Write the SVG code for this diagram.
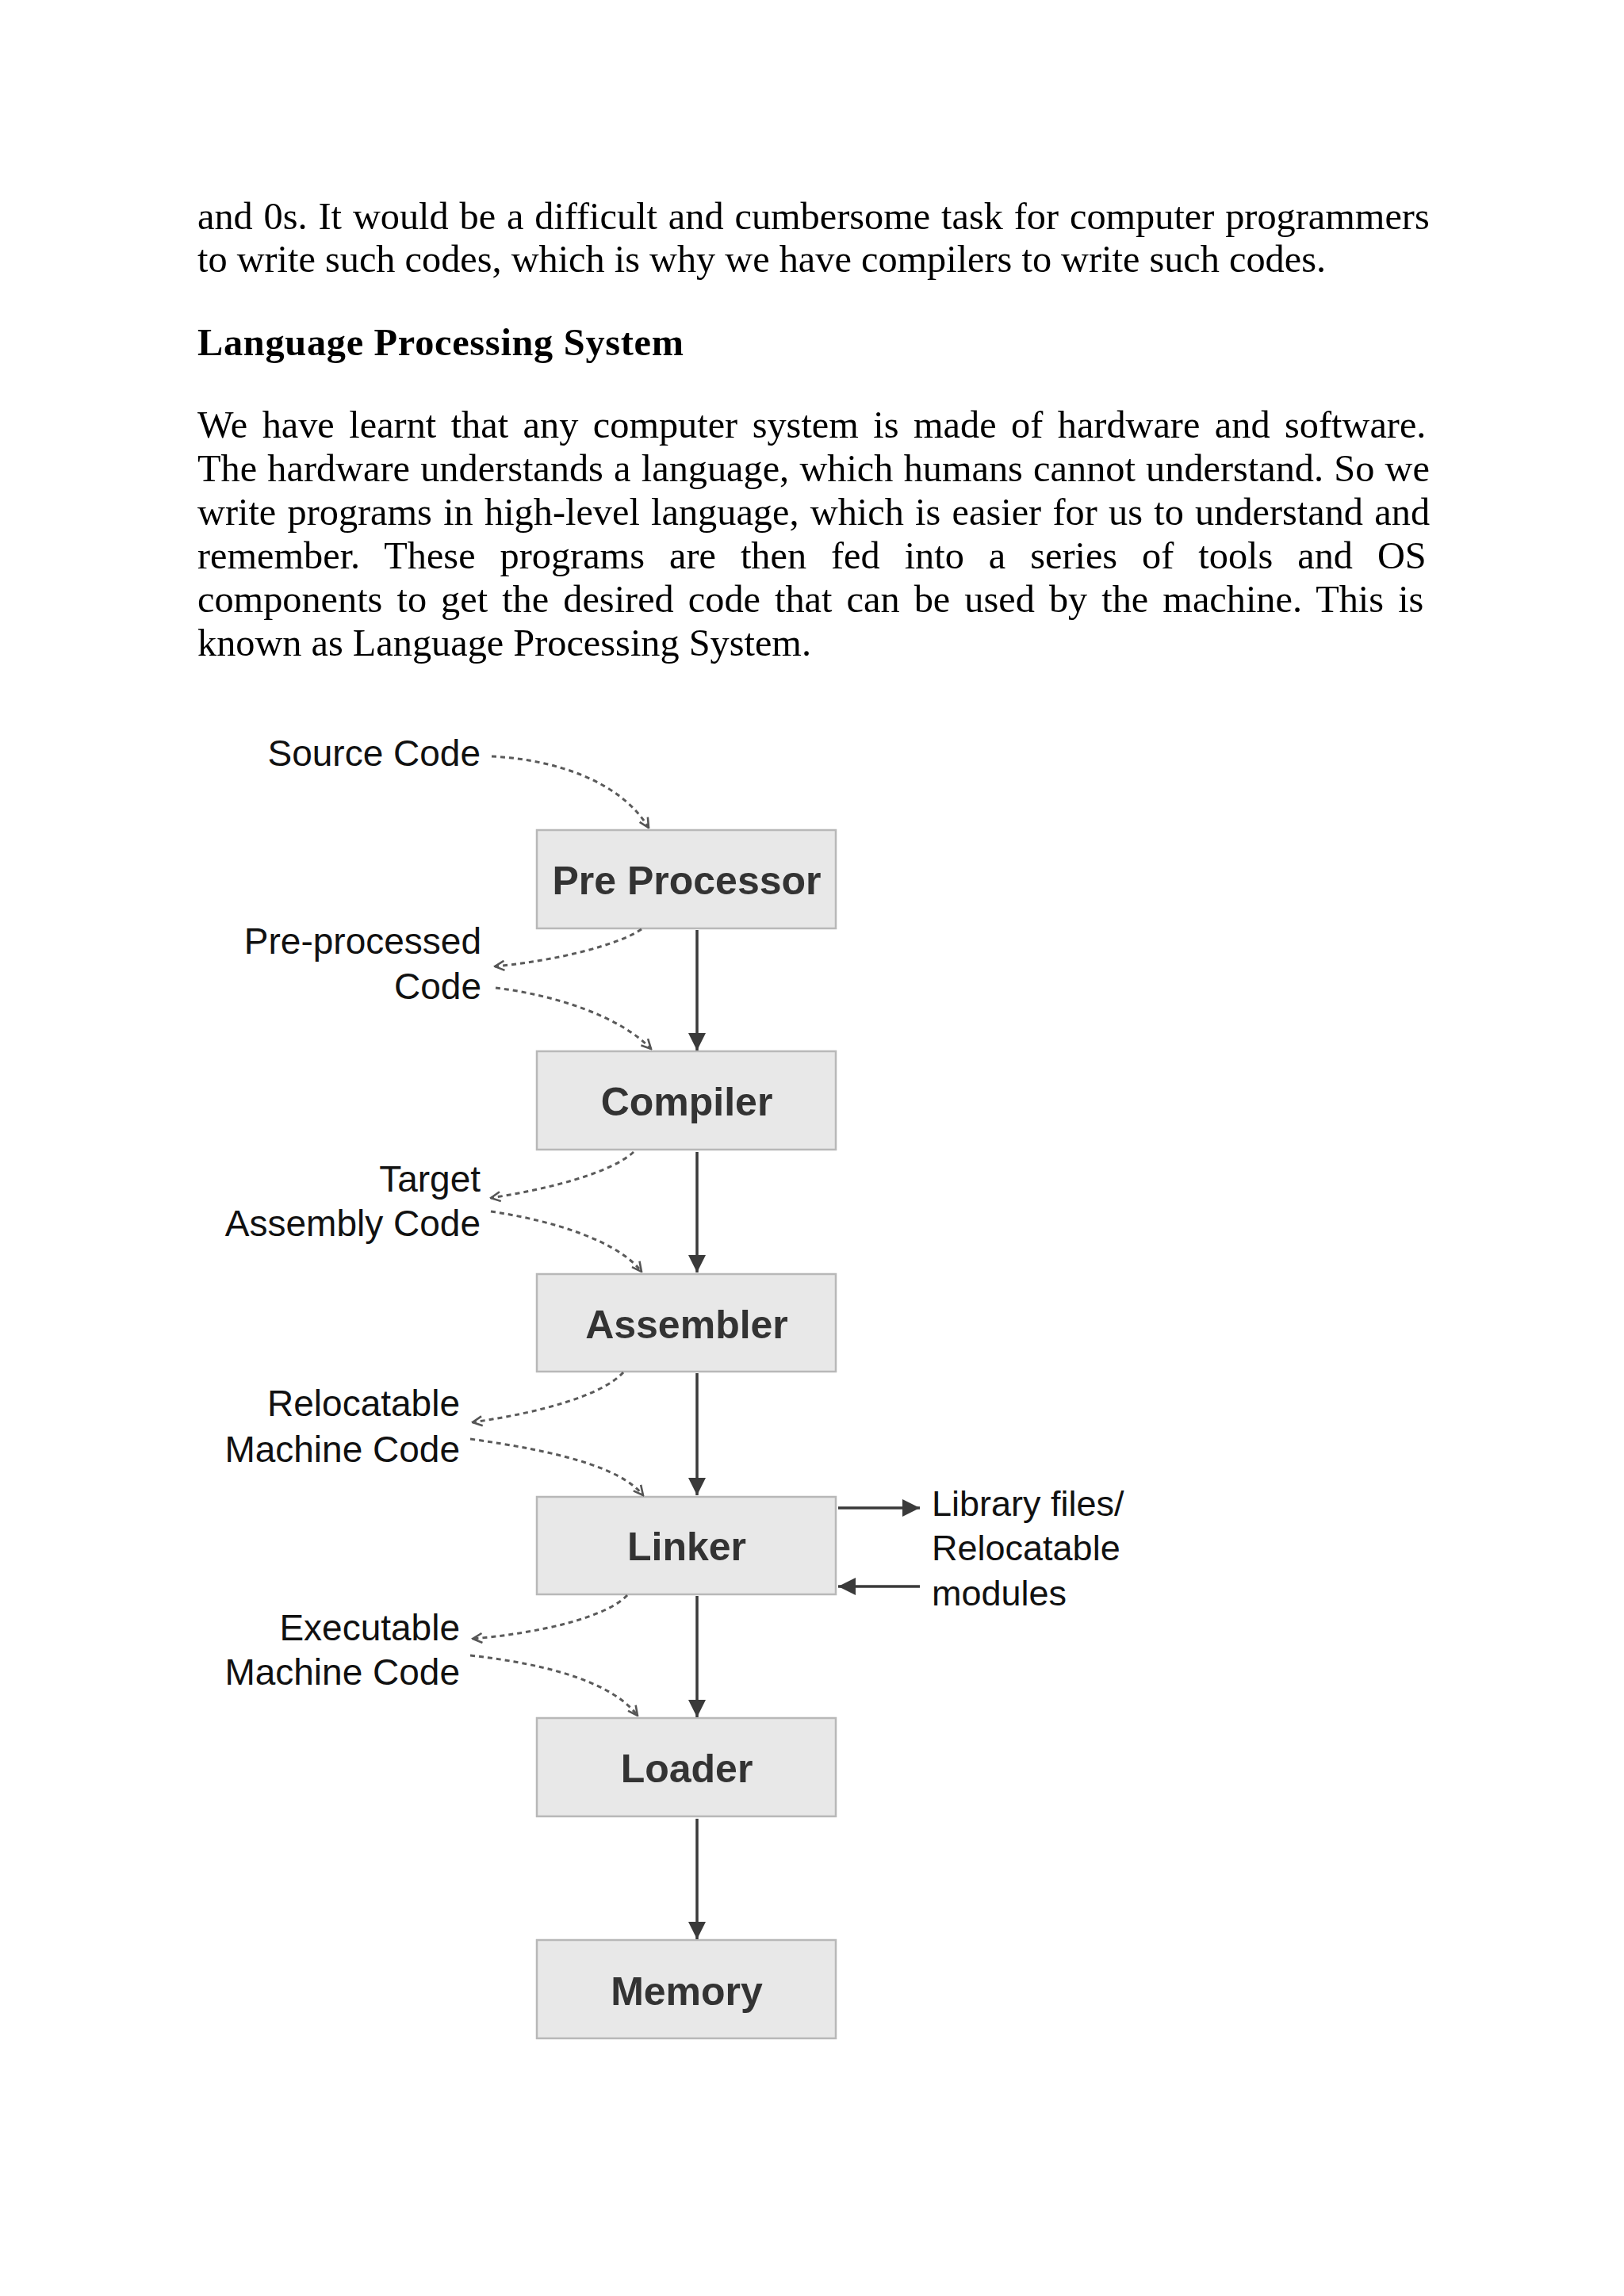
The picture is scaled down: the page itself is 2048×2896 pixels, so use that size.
<svg xmlns="http://www.w3.org/2000/svg" width="2048" height="2896" viewBox="0 0 2048 2896">
<style>
.body{font-family:"Liberation Serif","Times New Roman",serif;font-size:48.3px;fill:#000}
.head{font-family:"Liberation Serif","Times New Roman",serif;font-size:48.3px;font-weight:bold;fill:#000}
.box{fill:#e8e8e8;stroke:#b8b8b8;stroke-width:2.5}
.bl{font-family:"Liberation Sans",Arial,sans-serif;font-size:50px;font-weight:bold;fill:#333;text-anchor:middle}
.lab{font-family:"Liberation Sans",Arial,sans-serif;font-size:46px;fill:#111;text-anchor:end}
.labr{font-family:"Liberation Sans",Arial,sans-serif;font-size:45px;fill:#111}
.solid{stroke:#3a3a3a;stroke-width:3.5;fill:none;marker-end:url(#tri)}
.dot{stroke:#5a5a5a;stroke-width:3;stroke-dasharray:6 5;fill:none;marker-end:url(#chev)}
</style>
<defs>
<marker id="tri" viewBox="0 0 10 10" refX="10" refY="5" markerWidth="22" markerHeight="22" markerUnits="userSpaceOnUse" orient="auto">
<path d="M0,0 L10,5 L0,10 Z" fill="#3a3a3a"/>
</marker>
<marker id="chev" viewBox="0 0 10 10" refX="9" refY="5" markerWidth="15" markerHeight="15" markerUnits="userSpaceOnUse" orient="auto">
<path d="M1,1 L9,5 L1,9" fill="none" stroke="#555" stroke-width="1.7"/>
</marker>
</defs>
<rect width="2048" height="2896" fill="#fff"/>

<g id="text">
<text class="body" x="249" y="289" word-spacing="1.8">and 0s. It would be a difficult and cumbersome task for computer programmers</text>
<text class="body" x="249" y="343">to write such codes, which is why we have compilers to write such codes.</text>
<text class="head" x="249" y="448" textLength="613" lengthAdjust="spacing">Language Processing System</text>
<text class="body" x="249" y="552" word-spacing="6.4">We have learnt that any computer system is made of hardware and software.</text>
<text class="body" x="249" y="607" word-spacing="1.15">The hardware understands a language, which humans cannot understand. So we</text>
<text class="body" x="249" y="662" word-spacing="2.2">write programs in high-level language, which is easier for us to understand and</text>
<text class="body" x="249" y="717" word-spacing="18.9">remember. These programs are then fed into a series of tools and OS</text>
<text class="body" x="249" y="772" word-spacing="6.0">components to get the desired code that can be used by the machine. This is</text>
<text class="body" x="249" y="827">known as Language Processing System.</text>
</g>

<g id="node-preprocessor"><rect class="box" x="677" y="1047" width="377" height="124"/><text class="bl" x="866" y="1128">Pre Processor</text></g>
<g id="node-compiler"><rect class="box" x="677" y="1326" width="377" height="124"/><text class="bl" x="866" y="1407">Compiler</text></g>
<g id="node-assembler"><rect class="box" x="677" y="1607" width="377" height="123"/><text class="bl" x="866" y="1688">Assembler</text></g>
<g id="node-linker"><rect class="box" x="677" y="1888" width="377" height="123"/><text class="bl" x="866" y="1968">Linker</text></g>
<g id="node-loader"><rect class="box" x="677" y="2167" width="377" height="124"/><text class="bl" x="866" y="2248">Loader</text></g>
<g id="node-memory"><rect class="box" x="677" y="2447" width="377" height="124"/><text class="bl" x="866" y="2529">Memory</text></g>

<g id="labels">
<text class="lab" x="606" y="966">Source Code</text>
<text class="lab" x="607" y="1203">Pre-processed</text>
<text class="lab" x="607" y="1260">Code</text>
<text class="lab" x="606" y="1503">Target</text>
<text class="lab" x="606" y="1559">Assembly Code</text>
<text class="lab" x="580" y="1786">Relocatable</text>
<text class="lab" x="580" y="1844">Machine Code</text>
<text class="lab" x="580" y="2069">Executable</text>
<text class="lab" x="580" y="2125">Machine Code</text>
<text class="labr" x="1175" y="1912">Library files/</text>
<text class="labr" x="1175" y="1968">Relocatable</text>
<text class="labr" x="1175" y="2025">modules</text>
</g>

<g id="connectors">
<line class="solid" x1="879" y1="1173" x2="879" y2="1325"/>
<line class="solid" x1="879" y1="1453" x2="879" y2="1605"/>
<line class="solid" x1="879" y1="1732" x2="879" y2="1886"/>
<line class="solid" x1="879" y1="2013" x2="879" y2="2166"/>
<line class="solid" x1="879" y1="2294" x2="879" y2="2446"/>
<line class="solid" x1="1057" y1="1902" x2="1160" y2="1902"/>
<line class="solid" x1="1160" y1="2001" x2="1057" y2="2001"/>

<path class="dot" d="M620,954 C700,958 782,985 818,1044"/>
<path class="dot" d="M809,1172 C780,1192 700,1212 624,1219"/>
<path class="dot" d="M625,1246 C700,1255 782,1282 821,1323"/>
<path class="dot" d="M799,1453 C770,1480 690,1500 619,1511"/>
<path class="dot" d="M619,1528 C700,1540 780,1566 809,1604"/>
<path class="dot" d="M786,1731 C760,1760 680,1782 596,1794"/>
<path class="dot" d="M593,1815 C700,1830 782,1850 811,1886"/>
<path class="dot" d="M791,2012 C765,2040 680,2060 596,2067"/>
<path class="dot" d="M593,2088 C700,2100 775,2125 804,2164"/>
</g>
</svg>
